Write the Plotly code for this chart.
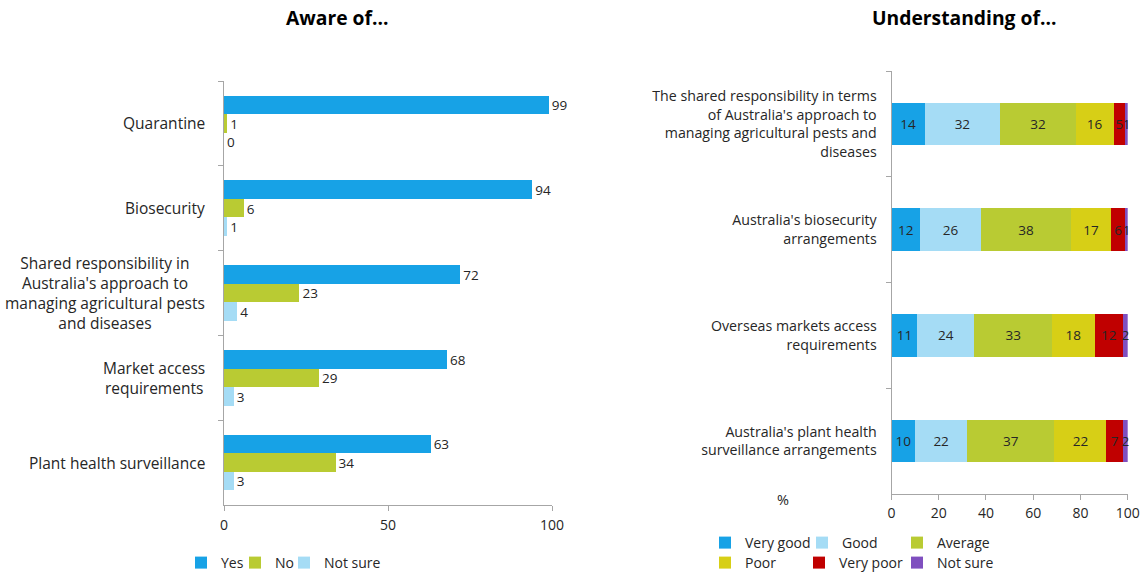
import plotly.graph_objects as go

W, H = 1144, 574

# ---------------- data ----------------
aware_items = ["Quarantine", "Biosecurity",
               "Shared responsibility in<br>Australia's approach to<br>managing agricultural pests<br>and diseases",
               "Market access<br>requirements", "Plant health surveillance"]
aware_yes = [99, 94, 72, 68, 63]
aware_no = [1, 6, 23, 29, 34]
aware_notsure = [0, 1, 4, 3, 3]

und_items = ["The shared responsibility in terms<br>of Australia's approach to<br>managing agricultural pests and<br>diseases",
             "Australia's biosecurity<br>arrangements",
             "Overseas markets access<br>requirements",
             "Australia's plant health<br>surveillance arrangements"]
und_series = {
    "Very good": [14, 12, 11, 10],
    "Good": [32, 26, 24, 22],
    "Average": [32, 38, 33, 37],
    "Poor": [16, 17, 18, 22],
    "Very poor": [5, 6, 12, 7],
    "Not sure": [1, 1, 2, 2],
}
aware_ticks = [0, 50, 100]
und_ticks = [0, 20, 40, 60, 80, 100]

# ---------------- styles ----------------
FONT = "Open Sans"
TXT = "#262626"
AXC = "#a6a6a6"
C_BLUE = "#17a2e6"
C_GREEN = "#b9cb33"
C_LBLUE = "#a5dcf5"
und_colors = {"Very good": C_BLUE, "Good": C_LBLUE, "Average": C_GREEN,
              "Poor": "#d7cf16", "Very poor": "#c00000", "Not sure": "#7f4fbf"}


def px_x(p):
    return p / W


def px_y(p):
    return 1 - p / H


fig = go.Figure()

aware_legends = {"Yes": ("legend", 181), "No": ("legend2", 235), "Not sure": ("legend3", 284)}
for name, vals, col, og in [("Yes", aware_yes, C_BLUE, "a"),
                            ("No", aware_no, C_GREEN, "b"),
                            ("Not sure", aware_notsure, C_LBLUE, "c")]:
    fig.add_trace(go.Bar(
        y=aware_items, x=vals, name=name, orientation="h",
        marker=dict(color=col, line=dict(width=0)),
        offsetgroup=og, text=[str(v) for v in vals], textposition="outside",
        textfont=dict(family=FONT, size=14, color=TXT), cliponaxis=False,
        xaxis="x", yaxis="y", legend=aware_legends[name][0], hoverinfo="skip",
        showlegend=True))

und_legends = {"Very good": ("legend4", 705, 543), "Good": ("legend5", 802, 543),
               "Average": ("legend6", 897, 543), "Poor": ("legend7", 705, 563),
               "Very poor": ("legend8", 799, 563), "Not sure": ("legend9", 897, 563)}
for name, vals in und_series.items():
    fig.add_trace(go.Bar(
        y=und_items, x=vals, name=name, orientation="h", width=0.4,
        marker=dict(color=und_colors[name], line=dict(width=0)),
        text=[str(v) for v in vals], textposition="inside",
        insidetextanchor="middle", constraintext="none",
        textfont=dict(family=FONT, size=13.5, color=TXT), cliponaxis=False,
        xaxis="x2", yaxis="y2", legend=und_legends[name][0], hoverinfo="skip",
        showlegend=True))

annotations = []
for item in aware_items:
    annotations.append(dict(
        x=px_x(207), xref="paper", y=item, yref="y", xanchor="right",
        yanchor="middle", align="center", showarrow=False, text=item,
        font=dict(family=FONT, size=15.5, color=TXT)))

annotations += [
    dict(x=px_x(337), y=px_y(18), xref="paper", yref="paper", text="<b>Aware of...</b>",
         showarrow=False, xanchor="center", yanchor="middle",
         font=dict(family=FONT, size=19.3, color="#000000")),
    dict(x=px_x(964), y=px_y(18), xref="paper", yref="paper", text="<b>Understanding of...</b>",
         showarrow=False, xanchor="center", yanchor="middle",
         font=dict(family=FONT, size=19.3, color="#000000")),
    dict(x=px_x(783), y=px_y(500), xref="paper", yref="paper", text="%",
         showarrow=False, xanchor="center", yanchor="middle",
         font=dict(family=FONT, size=14.5, color=TXT)),
]

axis_common = dict(showline=True, linecolor=AXC, linewidth=1, showgrid=False,
                   zeroline=False, ticks="outside", tickcolor=AXC, ticklen=5,
                   automargin=False,
                   tickfont=dict(family=FONT, size=14, color=TXT))


def legend_at(xp, yp):
    return dict(orientation="h", x=px_x(xp), y=px_y(yp), xref="container", yref="container",
                xanchor="left", yanchor="middle", visible=True,
                font=dict(family=FONT, size=14, color=TXT),
                bgcolor="rgba(0,0,0,0)", borderwidth=0)


layout_legends = {}
for nm, (lg, xp) in aware_legends.items():
    layout_legends[lg] = legend_at(xp, 563)
for nm, (lg, xp, yp) in und_legends.items():
    layout_legends[lg] = legend_at(xp, yp)

fig.update_layout(
    width=W, height=H, margin=dict(l=0, r=0, t=0, b=0, autoexpand=False),
    paper_bgcolor="white", plot_bgcolor="white", showlegend=True,
    barmode="stack", bargap=0.345, bargroupgap=0,
    uniformtext=dict(minsize=13.5, mode="show"),
    xaxis=dict(domain=[px_x(224), px_x(552)], range=[0, 100], tickvals=aware_ticks,
               anchor="y", ticklabelstandoff=2, **axis_common),
    yaxis=dict(domain=[px_y(505), px_y(81)], type="category", autorange="reversed",
               tickson="boundaries", showticklabels=False, anchor="x",
               **{k: v for k, v in axis_common.items() if k != "tickfont"}),
    xaxis2=dict(domain=[px_x(891.5), px_x(1127.7)], range=[0, 100], tickvals=und_ticks,
                anchor="y2", ticklabelstandoff=1, **axis_common),
    yaxis2=dict(domain=[px_y(494), px_y(71)], type="category", autorange="reversed",
                tickson="boundaries", anchor="x2", ticklabelstandoff=11,
                **{**axis_common, "tickfont": dict(family=FONT, size=14.2, color=TXT)}),
    annotations=annotations,
    **layout_legends,
)

fig.write_html("out.html")
